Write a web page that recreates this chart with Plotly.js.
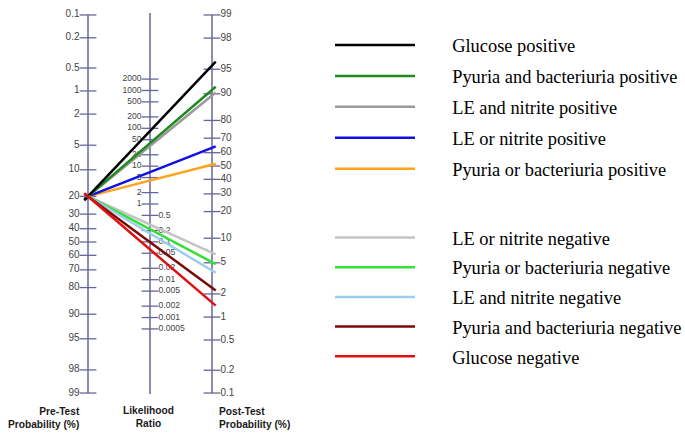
<!DOCTYPE html>
<html>
<head>
<meta charset="utf-8">
<script src="https://cdn.plot.ly/plotly-3.0.1.min.js"></script>
<style>html,body{margin:0;padding:0;background:#fff;}</style>
</head>
<body>
<div id="chart" style="width:685px;height:440px;"></div>
<script>
// ---- data ----
const preTestTicks = [0.1, 0.2, 0.5, 1, 2, 5, 10, 20, 30, 40, 50, 60, 70, 80, 90, 95, 98, 99];
const postTestTicks = [99, 98, 95, 90, 80, 70, 60, 50, 40, 30, 20, 10, 5, 2, 1, 0.5, 0.2, 0.1];
const lrTicksHigh = [2000, 1000, 500, 200, 100, 50, 20, 10, 5, 2, 1];
const lrTicksLow = [0.5, 0.2, 0.1, 0.05, 0.02, 0.01, 0.005, 0.002, 0.001, 0.0005];
const preTestProbability = 20;
const seriesNames = [
  'Glucose positive',
  'Pyuria and bacteriuria positive',
  'LE and nitrite positive',
  'LE or nitrite positive',
  'Pyuria or bacteriuria positive',
  'LE or nitrite negative',
  'Pyuria or bacteriuria negative',
  'LE and nitrite negative',
  'Pyuria and bacteriuria negative',
  'Glucose negative'
];
const postTestProbability = [95.5, 91, 89.5, 63.5, 51, 6.7, 5.1, 4.0, 2.4, 1.55];

// ---- styles ----
const seriesColors = ['#000000', '#1f8a1f', '#9a9a9a', '#1010e6', '#ffa41f',
                      '#c4c4c4', '#33e033', '#9dcdee', '#7a0a0a', '#e01010'];
const AXIS_COLOR = '#66669a';
const LABEL_COLOR = '#444444';

// ---- nomogram scales (logit / log) ----
const logit = p => Math.log(p / (100 - p));
const C = -logit(0.1) - logit(99);
const vPre = p => -logit(p);
const vPost = p => logit(p) + C;
const vLR = lr => (Math.log(lr) + C) / 2;
const XL = 0, XM = 0.5, XR = 1;
const EXT = 0.03;

const traces = [];
const axisTop = vPre(0.1), axisBot = vPre(99);
traces.push({
  x: [XL, XL, null, XM, XM, null, XR, XR],
  y: [axisTop, axisBot, null, vPre(0.1) + 0.06, axisBot - 0.03, null, axisTop, axisBot],
  mode: 'lines', line: {color: AXIS_COLOR, width: 1.5},
  hoverinfo: 'skip', showlegend: false
});
function tickTrace(x, vals, fn, pos, size) {
  return {
    x: vals.map(() => x), y: vals.map(fn), text: vals.map(String),
    mode: 'markers+text', textposition: pos,
    marker: {symbol: 'line-ew', size: 12, color: AXIS_COLOR, line: {color: AXIS_COLOR, width: 1.3}},
    textfont: {family: 'Liberation Sans, Arial, sans-serif', size: size, color: LABEL_COLOR},
    hoverinfo: 'skip', showlegend: false, cliponaxis: false
  };
}
traces.push(tickTrace(XL, preTestTicks, vPre, 'middle left', 10));
traces.push(tickTrace(XR, postTestTicks, vPost, 'middle right', 10));
traces.push(tickTrace(XM, lrTicksHigh, vLR, 'middle left', 8.6));
traces.push(tickTrace(XM, lrTicksLow, vLR, 'middle right', 8.6));

const NB = '\u00a0'.repeat(7);
const lineTraces = [];
postTestProbability.forEach((post, i) => {
  const y0 = vPre(preTestProbability), y1 = vPost(post);
  lineTraces.push({
    x: [XL - EXT, XR + EXT],
    y: [y0 - (y1 - y0) * EXT, y1 + (y1 - y0) * EXT],
    mode: 'lines', name: NB + seriesNames[i],
    line: {color: seriesColors[i], width: 2.5},
    legend: i < 5 ? 'legend' : 'legend2',
    legendgroup: 'g' + i, legendrank: i + 1
  });
});
const drawOrder = [4, 3, 2, 1, 0, 5, 6, 7, 8, 9];
drawOrder.forEach(i => traces.push(lineTraces[i]));

const pxToX = px => (px - 88) / 124;
const legendBase = {
  x: 330 / 685, xanchor: 'left', yanchor: 'top',
  itemwidth: 80, tracegroupgap: 4, traceorder: 'grouped',
  bgcolor: 'rgba(0,0,0,0)', borderwidth: 0,
  font: {family: 'Liberation Serif, Times New Roman, serif', size: 18.4, color: '#000000'}
};
const titleFont = {family: 'Liberation Sans, Arial, sans-serif', size: 10.2, color: '#1a1a1a'};
const layout = {
  width: 685, height: 440,
  margin: {l: 0, r: 0, t: 0, b: 0, autoexpand: false},
  paper_bgcolor: '#ffffff', plot_bgcolor: '#ffffff',
  xaxis: {range: [pxToX(0), pxToX(685)], visible: false, fixedrange: true},
  yaxis: {range: [(242 - 440) / 32.87, 242 / 32.87], visible: false, fixedrange: true},
  showlegend: true,
  legend: Object.assign({}, legendBase, {y: 1 - 26.5 / 440}),
  legend2: Object.assign({}, legendBase, {y: 1 - 219 / 440, tracegroupgap: 2.8}),
  annotations: [
    {text: '<b>Pre-Test</b><br><b>Probability (%)</b>', x: pxToX(82), y: 1 - 418 / 440,
     xref: 'x', yref: 'paper', xanchor: 'right', yanchor: 'middle', align: 'right', showarrow: false,
     font: titleFont},
    {text: '<b>Likelihood</b><br><b>Ratio</b>', x: pxToX(148), y: 1 - 417 / 440,
     xref: 'x', yref: 'paper', xanchor: 'center', yanchor: 'middle', align: 'center', showarrow: false,
     font: titleFont},
    {text: '<b>Post-Test</b><br><b>Probability (%)</b>', x: pxToX(217), y: 1 - 418 / 440,
     xref: 'x', yref: 'paper', xanchor: 'left', yanchor: 'middle', align: 'left', showarrow: false,
     font: titleFont}
  ]
};
Plotly.newPlot('chart', traces, layout, {displayModeBar: false, staticPlot: true});
</script>
</body>
</html>
